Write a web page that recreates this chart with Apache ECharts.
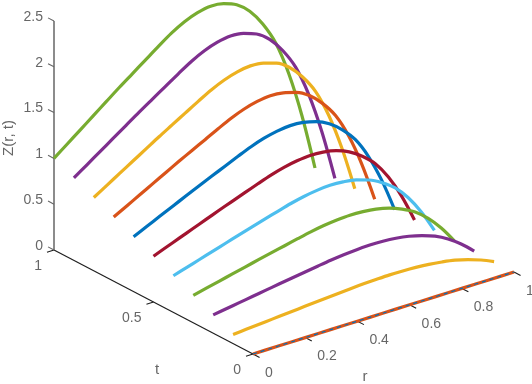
<!DOCTYPE html>
<html>
<head>
<meta charset="utf-8">
<style>html,body{margin:0;padding:0;background:#fff}#c{width:532px;height:384px}</style>
<script src="https://cdn.jsdelivr.net/npm/echarts@6/dist/echarts.min.js"></script>
</head>
<body>
<div id="c"></div>
<script>
const rValues = [0,0.05,0.1,0.15,0.2,0.25,0.3,0.35,0.4,0.45,0.5,0.55,0.6,0.65,0.7,0.75,0.8,0.85,0.9,0.95,1];
const z_t10 = [1,1.11,1.22,1.33,1.44,1.55,1.655,1.76,1.865,1.965,2.045,2.10,2.125,2.1075,2.05,1.935,1.75,1.495,1.115,0.615,0];
const z_t09 = [0.9,0.999,1.098,1.197,1.296,1.395,1.490,1.584,1.679,1.769,1.841,1.89,1.913,1.897,1.845,1.742,1.575,1.346,1.004,0.554,0];
const z_t08 = [0.8,0.888,0.976,1.064,1.152,1.24,1.324,1.408,1.492,1.572,1.636,1.68,1.70,1.686,1.64,1.548,1.40,1.196,0.892,0.492,0];
const z_t07 = [0.7,0.777,0.854,0.931,1.008,1.085,1.159,1.232,1.306,1.376,1.432,1.47,1.488,1.475,1.435,1.355,1.225,1.047,0.781,0.431,0];
const z_t06 = [0.6,0.666,0.732,0.798,0.864,0.93,0.993,1.056,1.119,1.179,1.227,1.26,1.275,1.265,1.23,1.161,1.05,0.897,0.669,0.369,0];
const z_t05 = [0.5,0.555,0.61,0.665,0.72,0.775,0.828,0.88,0.933,0.983,1.023,1.05,1.063,1.054,1.025,0.968,0.875,0.748,0.558,0.308,0];
const z_t04 = [0.4,0.444,0.488,0.532,0.576,0.62,0.662,0.704,0.746,0.786,0.818,0.84,0.85,0.843,0.82,0.774,0.70,0.598,0.446,0.246,0];
const z_t03 = [0.3,0.333,0.366,0.399,0.432,0.465,0.497,0.528,0.56,0.59,0.614,0.63,0.638,0.632,0.615,0.581,0.525,0.449,0.335,0.185,0];
const z_t02 = [0.2,0.222,0.244,0.266,0.288,0.31,0.331,0.352,0.373,0.393,0.409,0.42,0.425,0.422,0.41,0.387,0.35,0.299,0.223,0.123,0];
const z_t01 = [0.1,0.111,0.122,0.133,0.144,0.155,0.166,0.176,0.187,0.197,0.205,0.21,0.213,0.211,0.205,0.194,0.175,0.15,0.112,0.062,0];
const z_t00 = [0,0,0,0,0,0,0,0,0,0,0,0,0,0,0,0,0,0,0,0,0];
const tValues = [1,0.9,0.8,0.7,0.6,0.5,0.4,0.3,0.2,0.1];
const curveValues = [z_t10,z_t09,z_t08,z_t07,z_t06,z_t05,z_t04,z_t03,z_t02,z_t01];
const curveColors = ['#77AC30','#7E2F8E','#EDB120','#D95319','#0072BD','#A2142F','#4DBEEE','#77AC30','#7E2F8E','#EDB120'];
const rTicks = [0,0.2,0.4,0.6,0.8,1];
const tTicks = [0,0.5,1];
const zTicks = [0,0.5,1,1.5,2,2.5];

// Parallel projection of (r, t, Z) on the flat x/y scales below
function project(r, t, z) {
  return [253 + 261 * r - 199 * t, 354 - 82 * r - 104 * t - 91.6 * z];
}
const textColor = '#404040', axisColor = '#1f1f1f', zAxisColor = '#666666', font = '"Liberation Sans", sans-serif', fs = 14;

function lineSeries(name, pts, color, width, extra) {
  return Object.assign({
    name, type: 'line', data: pts, showSymbol: false, symbol: 'none', clip: false, silent: true,
    connectNulls: false, lineStyle: { color, width, cap: 'butt', join: 'round' }
  }, extra || {});
}
function tickSegs(list) {
  const out = [];
  list.forEach(s => { out.push(s[0], s[1], [null, null]); });
  return out;
}
function labels(name, vals, at, position, offset) {
  return {
    name, type: 'scatter', symbolSize: 0.01, clip: false, silent: true,
    data: vals.map(v => ({ value: at(v), label: {
      show: true, formatter: String(v), position, offset, color: textColor, fontFamily: font, fontSize: fs
    } }))
  };
}

const series = [];
// axes
series.push(lineSeries('t axis', [project(0,1,0), project(0,0,0)], axisColor, 1.2));
series.push(lineSeries('r axis', [project(0,0,0), project(1,0,0)], axisColor, 1.2));
series.push(lineSeries('Z axis', [project(0,1,0), project(0,1,2.5)], zAxisColor, 1.5));
series.push(lineSeries('r ticks', tickSegs(rTicks.map(v => [project(v,0,0), project(v,-0.033,0)])), axisColor, 1.1));
series.push(lineSeries('t ticks', tickSegs(tTicks.map(v => [project(0,v,0), project(-0.027,v,0)])), axisColor, 1.1));
series.push(lineSeries('Z ticks', tickSegs(zTicks.map(v => [project(0,1,v), project(0,1.03,v)])), zAxisColor, 1.1));
// curves, far to near
tValues.forEach((t, i) => {
  series.push(lineSeries('t=' + t, rValues.map((r, k) => project(r, t, curveValues[i][k])), curveColors[i], 3.2, { smooth: 0.33 }));
});
series.push(lineSeries('t=0 a', rValues.map((r, k) => project(r, 0, z_t00[k])), '#D95319', 3.2));
series.push(lineSeries('t=0 b', rValues.map((r, k) => project(r, 0, z_t00[k])), '#0072BD', 1.2, {
  lineStyle: { color: '#0072BD', width: 1.2, type: [4, 4] }
}));
// tick labels
series.push(labels('Z labels', zTicks, v => project(0,1.03,v), 'left', [0,-1]));
series.push(labels('t labels', tTicks, v => project(0,v,0), 'left', [-7,16]));
series.push(labels('r labels', rTicks, v => project(v,0,0), 'right', [7,19]));
// axis names
series.push({
  name: 'axis names', type: 'scatter', symbolSize: 0.01, clip: false, silent: true,
  data: [
    { value: [9, 138], label: { show: true, formatter: 'Z(r, t)', rotate: 90, position: 'inside', color: textColor, fontFamily: font, fontSize: 15 } },
    { value: [157, 370], label: { show: true, formatter: 't', position: 'inside', color: textColor, fontFamily: font, fontSize: 15 } },
    { value: [365, 377], label: { show: true, formatter: 'r', position: 'inside', color: textColor, fontFamily: font, fontSize: 15 } }
  ]
});

const chart = echarts.init(document.getElementById('c'), null, { renderer: 'canvas' });
chart.setOption({
  animation: false,
  backgroundColor: '#ffffff',
  grid: { left: 0, right: 0, top: 0, bottom: 0 },
  xAxis: { type: 'value', min: 0, max: 532, show: false },
  yAxis: { type: 'value', min: 0, max: 384, inverse: true, show: false },
  series
});
</script>
</body>
</html>
